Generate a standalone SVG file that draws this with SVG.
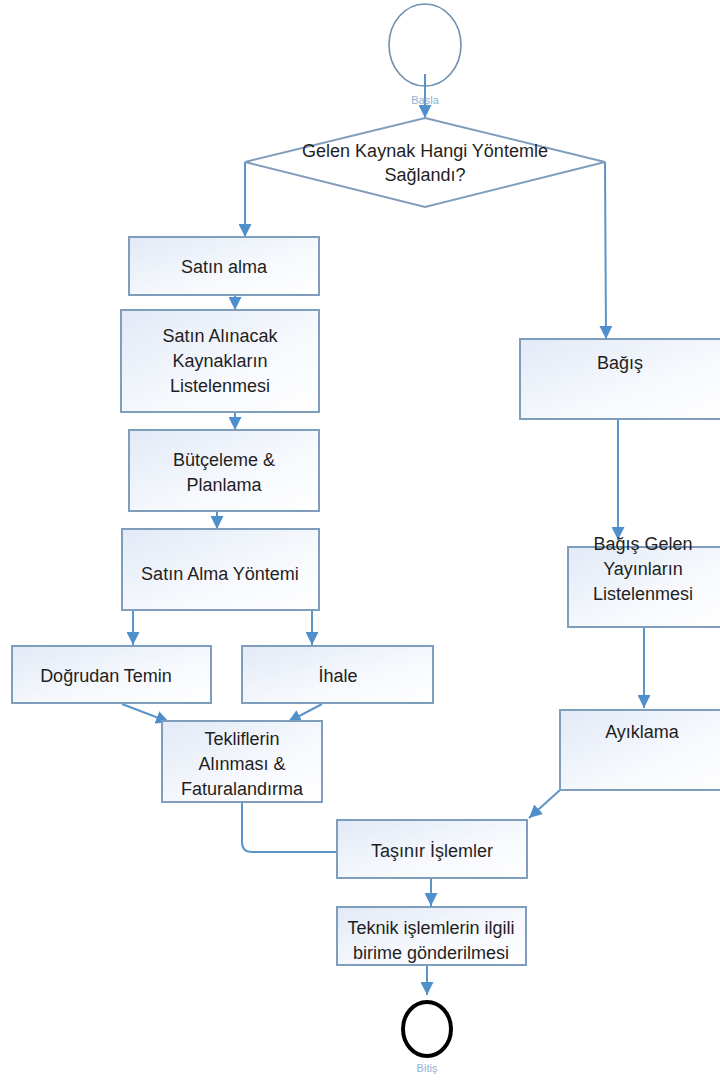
<svg xmlns="http://www.w3.org/2000/svg" width="720" height="1080" viewBox="0 0 720 1080">
  <defs>
    <linearGradient id="boxFill" x1="0" y1="0" x2="1" y2="1">
      <stop offset="0" stop-color="#e2eaf6"/>
      <stop offset="0.6" stop-color="#f7f9fd"/>
      <stop offset="1" stop-color="#ffffff"/>
    </linearGradient>
    <marker id="arrow" viewBox="0 0 10 10" refX="10" refY="5" markerWidth="13" markerHeight="13" markerUnits="userSpaceOnUse" orient="auto">
      <path d="M0,0 L10,5 L0,10 Z" fill="#4f8fcb"/>
    </marker>
    <style>
      .box { fill: url(#boxFill); stroke: #7f9dbd; stroke-width: 2; }
      .lbl { font-family: "Liberation Sans", Arial, sans-serif; font-size: 18px; fill: #1f1f1f; text-anchor: middle; }
      .small { font-family: "Liberation Sans", Arial, sans-serif; font-size: 11px; fill: #8fb2d6; text-anchor: middle; }
      .conn { fill: none; stroke: #5b94c8; stroke-width: 2; }
    </style>
  </defs>

  <rect width="720" height="1080" fill="#ffffff"/>

  <!-- connectors -->
  <g id="connectors">
    <line class="conn" x1="425" y1="74" x2="425" y2="118" marker-end="url(#arrow)"/>
    <polyline class="conn" points="245,162 245,237" marker-end="url(#arrow)"/>
    <polyline class="conn" points="605,162 606,339" marker-end="url(#arrow)"/>
    <line class="conn" x1="235" y1="282" x2="235" y2="310" marker-end="url(#arrow)"/>
    <line class="conn" x1="235" y1="385" x2="235" y2="430" marker-end="url(#arrow)"/>
    <line class="conn" x1="217" y1="511" x2="217" y2="529" marker-end="url(#arrow)"/>
    <line class="conn" x1="133" y1="610" x2="133" y2="645" marker-end="url(#arrow)"/>
    <line class="conn" x1="312" y1="610" x2="312" y2="645" marker-end="url(#arrow)"/>
    <line class="conn" x1="122" y1="704" x2="169" y2="722" marker-end="url(#arrow)"/>
    <line class="conn" x1="322" y1="704" x2="288" y2="722" marker-end="url(#arrow)"/>
    <path class="conn" d="M242,802 V842 Q242,852 252,852 H337"/>
    <line class="conn" x1="618" y1="419" x2="618" y2="540" marker-end="url(#arrow)"/>
    <line class="conn" x1="644" y1="627" x2="644" y2="708" marker-end="url(#arrow)"/>
    <line class="conn" x1="560" y1="790" x2="529" y2="818" marker-end="url(#arrow)"/>
    <line class="conn" x1="431" y1="878" x2="431" y2="906" marker-end="url(#arrow)"/>
    <line class="conn" x1="427" y1="946" x2="427" y2="995" marker-end="url(#arrow)"/>
  </g>

  <!-- start -->
  <g id="start">
    <ellipse cx="425" cy="45" rx="36" ry="41" fill="#ffffff" fill-opacity="0" stroke="#6f8fb0" stroke-width="1.6"/>
    <text class="small" x="425" y="104">Başla</text>
  </g>

  <!-- decision -->
  <g id="decision">
    <polygon points="425,118 605,162 425,207 245,162" fill="#ffffff" stroke="#7f9dbd" stroke-width="2"/>
    <text class="lbl" x="425" y="157">Gelen Kaynak Hangi Yöntemle</text>
    <text class="lbl" x="425" y="181">Sağlandı?</text>
  </g>

  <g id="satin-alma">
    <rect class="box" x="129" y="237" width="190" height="58"/>
    <text class="lbl" x="224" y="273">Satın alma</text>
  </g>

  <g id="listeleme">
    <rect class="box" x="121" y="310" width="198" height="102"/>
    <text class="lbl" x="220" y="342">Satın Alınacak</text>
    <text class="lbl" x="220" y="367">Kaynakların</text>
    <text class="lbl" x="220" y="392">Listelenmesi</text>
  </g>

  <g id="butceleme">
    <rect class="box" x="129" y="430" width="190" height="81"/>
    <text class="lbl" x="224" y="466">Bütçeleme &amp;</text>
    <text class="lbl" x="224" y="491">Planlama</text>
  </g>

  <g id="yontem">
    <rect class="box" x="122" y="529" width="197" height="81"/>
    <text class="lbl" x="220" y="580">Satın Alma Yöntemi</text>
  </g>

  <g id="dogrudan">
    <rect class="box" x="12" y="646" width="199" height="57"/>
    <text class="lbl" x="106" y="682">Doğrudan Temin</text>
  </g>

  <g id="ihale">
    <rect class="box" x="242" y="646" width="191" height="57"/>
    <text class="lbl" x="338" y="682">İhale</text>
  </g>

  <g id="teklifler">
    <rect class="box" x="162" y="721" width="160" height="81"/>
    <text class="lbl" x="242" y="745">Tekliflerin</text>
    <text class="lbl" x="242" y="770">Alınması &amp;</text>
    <text class="lbl" x="242" y="795">Faturalandırma</text>
  </g>

  <g id="bagis">
    <rect class="box" x="520" y="339" width="205" height="80"/>
    <text class="lbl" x="620" y="369">Bağış</text>
  </g>

  <g id="bagis-listeleme">
    <rect class="box" x="568" y="547" width="157" height="80"/>
    <text class="lbl" x="643" y="550">Bağış Gelen</text>
    <text class="lbl" x="643" y="575">Yayınların</text>
    <text class="lbl" x="643" y="600">Listelenmesi</text>
  </g>

  <g id="ayiklama">
    <rect class="box" x="560" y="710" width="165" height="80"/>
    <text class="lbl" x="642" y="738">Ayıklama</text>
  </g>

  <g id="tasinir">
    <rect class="box" x="337" y="820" width="190" height="58"/>
    <text class="lbl" x="432" y="857">Taşınır İşlemler</text>
  </g>

  <g id="teknik">
    <rect class="box" x="337" y="907" width="189" height="58"/>
    <text class="lbl" x="431" y="934">Teknik işlemlerin ilgili</text>
    <text class="lbl" x="431" y="959">birime gönderilmesi</text>
  </g>

  <!-- end -->
  <g id="end">
    <ellipse cx="427" cy="1029" rx="24" ry="27" fill="#ffffff" stroke="#000000" stroke-width="4"/>
    <text class="small" x="427" y="1072">Bitiş</text>
  </g>
</svg>
